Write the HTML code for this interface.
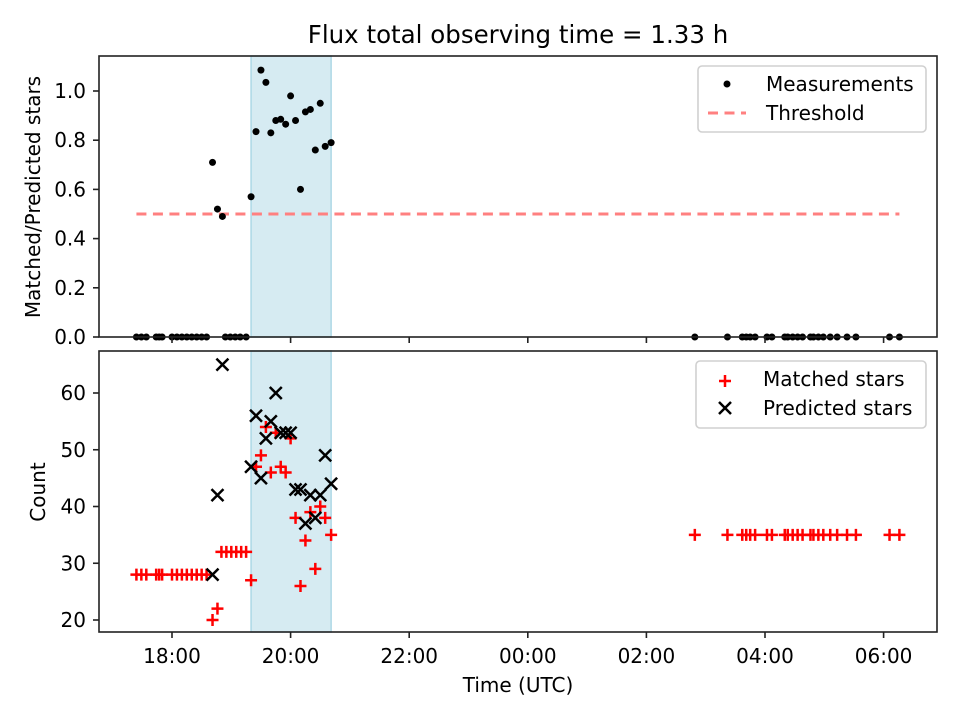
<!DOCTYPE html>
<html><head><meta charset="utf-8"><style>body{margin:0;background:#fff}svg{font-family:"DejaVu Sans","Liberation Sans",sans-serif}</style></head>
<body>
<svg id="c" width="960" height="720" xmlns="http://www.w3.org/2000/svg"></svg>
<script>
// times in minutes after 18:00 UTC
const xTickLabels=["18:00","20:00","22:00","00:00","02:00","04:00","06:00"];
const xTickMins=[0,120,240,360,480,600,720];
const ratioTimes=[41,46,51,80,85,90,95,100,105,110,115,120,125,130,135,140,145,150,155,161];
const ratioVals=[0.71,0.52,0.49,0.57,0.835,1.085,1.035,0.83,0.88,0.885,0.865,0.98,0.88,0.60,0.915,0.925,0.76,0.95,0.775,0.79];
const zeroTimes=[-36,-31,-26,-16,-13,-10,0,5,10,15,20,25,30,35,54,59,64,69,75,529,562,577,581,585,590,602,607,620,623,628,633,638,646,649,654,659,666,673,683,692,726,736];
const matchedTimes=[-36,-31,-26,-16,-13,-10,0,5,10,15,20,25,30,35,41,46,50,55,60,65,70,75,80,85,90,95,100,105,110,115,120,125,130,135,140,145,150,155,161,529,562,577,581,585,590,602,607,620,623,628,633,638,646,649,654,659,666,673,683,692,726,736];
const matchedVals=[28,28,28,28,28,28,28,28,28,28,28,28,28,28,20,22,32,32,32,32,32,32,27,47,49,54,46,53,47,46,52,38,26,34,39,29,40,38,35,35,35,35,35,35,35,35,35,35,35,35,35,35,35,35,35,35,35,35,35,35,35,35];
const predTimes=[41,46,51,80,85,90,95,100,105,110,115,120,125,130,135,140,145,150,155,161];
const predVals=[28,42,65,47,56,45,52,55,60,53,53,53,43,43,37,42,38,42,49,44];
const threshold=0.5, thrStart=-36, thrEnd=736;
const shadeStart=80, shadeEnd=161;

const NS="http://www.w3.org/2000/svg";
const svg=document.getElementById('c');
function el(t,a,p){const e=document.createElementNS(NS,t);for(const k in a)e.setAttribute(k,a[k]);(p||svg).appendChild(e);return e;}
const L=99,R=937;
const X=m=>172+m/60*59.3;
const Y1=v=>337-v*246;
const Y2=v=>733.5-5.675*v;
const T1=56,B1=337,T2=351,B2=632;
const FS=20;

let t=el('text',{x:518,y:43,'text-anchor':'middle','font-size':'24.5'});t.textContent="Flux total observing time = 1.33 h";


[[T1,B1,'shade-top'],[T2,B2,'shade-bottom']].forEach(([a,b,n])=>{
 const r=el('rect',{x:X(shadeStart),y:a,width:X(shadeEnd)-X(shadeStart),height:b-a,fill:'#add8e6','fill-opacity':0.5,stroke:'#add8e6','stroke-width':1.5});
 });

const th=el('line',{x1:X(thrStart),x2:X(thrEnd),y1:Y1(threshold),y2:Y1(threshold),stroke:'#ff8080','stroke-width':3,'stroke-dasharray':'10,6.5'});


const g1=el('g',{});
ratioTimes.forEach((m,i)=>el('circle',{cx:X(m),cy:Y1(ratioVals[i]),r:3.5,fill:'#000'},g1));
zeroTimes.forEach(m=>el('circle',{cx:X(m),cy:Y1(0),r:3.5,fill:'#000'},g1));

function plus(x,y,g){el('path',{d:`M${x-6} ${y}h12M${x} ${y-6}v12`,stroke:'#f00','stroke-width':2.5},g);}
function cross(x,y,g){el('path',{d:`M${x-6} ${y-6}l12 12M${x-6} ${y+6}l12 -12`,stroke:'#000','stroke-width':2.5},g);}
const g2=el('g',{});
matchedTimes.forEach((m,i)=>plus(X(m),Y2(matchedVals[i]),g2));
const g3=el('g',{});
predTimes.forEach((m,i)=>cross(X(m),Y2(predVals[i]),g3));

[[T1,B1,'top-axes'],[T2,B2,'bottom-axes']].forEach(([a,b,n])=>{
 const r=el('rect',{x:L,y:a,width:R-L,height:b-a,fill:'none',stroke:'#222','stroke-width':1.6});
 });

xTickMins.forEach((m,i)=>{
 el('line',{x1:X(m),x2:X(m),y1:B1,y2:B1+6,stroke:'#222','stroke-width':1.6});
 el('line',{x1:X(m),x2:X(m),y1:B2,y2:B2+6,stroke:'#222','stroke-width':1.6});
 const tx=el('text',{x:X(m),y:663,'text-anchor':'middle','font-size':FS});tx.textContent=xTickLabels[i];
 
});
[0,0.2,0.4,0.6,0.8,1.0].forEach(v=>{
 el('line',{x1:L-6,x2:L,y1:Y1(v),y2:Y1(v),stroke:'#222','stroke-width':1.6});
 const tx=el('text',{x:L-13,y:Y1(v)+7,'text-anchor':'end','font-size':FS});tx.textContent=v.toFixed(1);
 
});
[20,30,40,50,60].forEach(v=>{
 el('line',{x1:L-6,x2:L,y1:Y2(v),y2:Y2(v),stroke:'#222','stroke-width':1.6});
 const tx=el('text',{x:L-13,y:Y2(v)+7,'text-anchor':'end','font-size':FS});tx.textContent=v;
 
});
let a=el('text',{x:518,y:692,'text-anchor':'middle','font-size':FS});a.textContent="Time (UTC)";

a=el('text',{x:0,y:0,'text-anchor':'middle','font-size':FS,transform:`translate(40,197) rotate(-90)`});a.textContent="Matched/Predicted stars";

a=el('text',{x:0,y:0,'text-anchor':'middle','font-size':FS,transform:`translate(45,492) rotate(-90)`});a.textContent="Count";


let lg=el('g',{});
el('rect',{x:698,y:66,width:228,height:66,rx:4,fill:'#fff','fill-opacity':0.8,stroke:'#d0d0d0','stroke-width':1.6},lg);
el('circle',{cx:727,cy:84,r:3.5,fill:'#000'},lg);
el('line',{x1:708,x2:746,y1:113,y2:113,stroke:'#ff8080','stroke-width':3,'stroke-dasharray':'10,6.5'},lg);
let lt=el('text',{x:766,y:91,'font-size':FS},lg);lt.textContent="Measurements";
lt=el('text',{x:766,y:120,'font-size':FS},lg);lt.textContent="Threshold";
lg=el('g',{});
el('rect',{x:696,y:361,width:230,height:67,rx:4,fill:'#fff','fill-opacity':0.8,stroke:'#d0d0d0','stroke-width':1.6},lg);
plus(725,381,lg);cross(725,408,lg);
lt=el('text',{x:763,y:386,'font-size':FS},lg);lt.textContent="Matched stars";
lt=el('text',{x:763,y:415,'font-size':FS},lg);lt.textContent="Predicted stars";
</script>
</body></html>
